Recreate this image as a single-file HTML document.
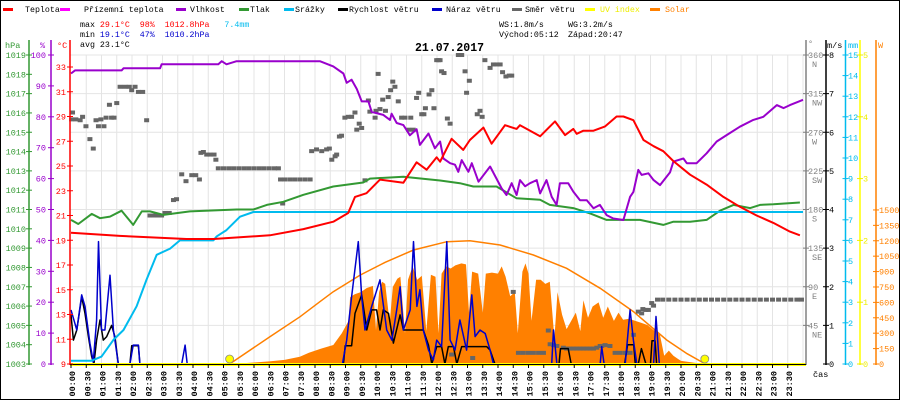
<!DOCTYPE html>
<html><head><meta charset="utf-8"><style>
html,body{margin:0;padding:0;background:#fff;}
svg{display:block;font-family:"Liberation Mono",monospace;}
</style></head><body>
<svg id="chart" width="900" height="400" viewBox="0 0 900 400" xmlns="http://www.w3.org/2000/svg">
<rect x="0.5" y="0.5" width="899" height="399" fill="#fff" stroke="#000" stroke-width="1"/>
<g font-size="8.3" fill="#000">
<rect x="3" y="8" width="10" height="3" fill="#ff0000"/><text x="25" y="12">Teplota</text>
<rect x="60" y="8" width="10" height="3" fill="#ff00ff"/><text x="84" y="12">Přízemní teplota</text>
<rect x="176" y="8" width="10" height="3" fill="#9900cc"/><text x="190" y="12">Vlhkost</text>
<rect x="239" y="8" width="10" height="3" fill="#339933"/><text x="250" y="12">Tlak</text>
<rect x="284" y="8" width="10" height="3" fill="#00bbee"/><text x="295" y="12">Srážky</text>
<rect x="338" y="8" width="10" height="3" fill="#000"/><text x="349" y="12">Rychlost větru</text>
<rect x="432" y="8" width="10" height="3" fill="#0000cc"/><text x="446" y="12">Náraz větru</text>
<rect x="512" y="8" width="10" height="3" fill="#666"/><text x="525" y="12">Směr větru</text>
<rect x="585" y="8" width="10" height="3" fill="#ffff00"/><text x="600" y="12" fill="#eeee00">UV index</text>
<rect x="650" y="8" width="10" height="3" fill="#ff8000"/><text x="665" y="12" fill="#ff8000">Solar</text>
</g>
<g font-size="8.3" fill="#000">
<text x="80" y="27" xml:space="preserve">max <tspan fill="#ff0000">29.1°C  98%  1012.8hPa</tspan>   <tspan fill="#00bbee">7.4mm</tspan></text>
<text x="80" y="37" xml:space="preserve">min <tspan fill="#0000cc">19.1°C  47%  1010.2hPa</tspan></text>
<text x="80" y="47">avg 23.1°C</text>
<text x="499" y="27">WS:1.8m/s</text>
<text x="568" y="27">WG:3.2m/s</text>
<text x="499" y="37">Východ:05:12</text>
<text x="568" y="37">Západ:20:47</text>
</g>
<text x="415" y="51" font-size="11.5" font-weight="bold">21.07.2017</text>
<g id="plot"></g>
</svg>
<script>
// ---- data ----
const tempTimes=[0,1.6,3.79,4.67,6.52,7.62,8.6,9.09,9.31,9.69,10.13,10.9,11.33,11.66,11.99,12.1,12.48,12.86,13.08,13.52,13.79,14.23,14.61,14.72,15.38,15.87,16.2,16.47,16.58,16.8,17.13,17.51,17.89,18.11,18.44,18.77,19.1,19.42,19.75,20.3,20.84,21.39,21.93,22.48,23.03,23.57,23.9];
const tempVals=[19.6,19.35,19.1,19.1,19.4,19.9,20.5,21.2,22.5,22.8,23.9,23.65,25.3,24.7,25.7,25.35,27.2,26.3,27.1,28.1,26.8,28.3,28.0,28.3,27.4,28.6,27.5,28.0,27.6,27.85,27.85,28.2,29.0,29.0,28.7,27.1,26.6,26.2,25.4,24.3,23.5,22.5,21.7,21.0,20.4,19.7,19.4];
const humTimes=[0,0.13,1.66,1.72,2.92,2.97,4.83,4.94,5.1,5.43,8.16,8.6,8.93,9.04,9.2,9.37,9.53,9.75,9.86,10.24,10.46,10.51,10.68,10.9,11.11,11.33,11.44,11.72,11.93,12.1,12.21,12.43,12.59,12.7,12.81,13.03,13.14,13.36,13.74,14.12,14.28,14.45,14.61,14.72,14.89,15.05,15.27,15.38,15.59,15.76,15.92,16.03,16.3,16.47,16.69,16.91,17.13,17.34,17.56,17.78,18.11,18.33,18.44,18.6,18.71,18.93,19.1,19.31,19.64,19.75,20.08,20.19,20.51,20.84,21.17,21.5,21.93,22.37,22.7,23.14,23.36,23.57,23.85,24];
const humVals=[94,95,95,95.7,95.7,97,97,98,97,98,98,96.3,94,91,92,89,85,85,81.6,80.6,79,81,78,77.3,74,76,70.9,74.6,69.8,72,66.5,65,64.5,62.2,66,62.2,65,59,63.9,56.8,54.7,58.5,54.7,59.5,57.5,58.5,59.5,55.2,59.5,54.1,51.5,58.5,58.5,55.8,53,53,50.4,51.5,48.2,47.1,46.6,54.1,55.7,62.8,61.2,61.7,59.5,57.9,62,65.5,66.5,65,65,68.2,72,74.1,76.8,79,80,83.8,82.8,83.8,84.9,85.5];
const presTimes=[0,0.24,0.68,0.95,1.28,1.66,2.04,2.32,2.59,3.03,3.9,5.43,5.98,6.42,6.96,7.62,8.6,9.58,9.8,10.9,12.1,12.75,13.19,13.95,14.61,15.38,15.7,16.47,17.02,17.56,18.66,19.42,19.75,20.3,20.84,21.28,21.72,22.27,22.59,23.03,23.9];
const presVals=[1010.46,1010.25,1010.77,1010.55,1010.63,1010.94,1010.2,1010.9,1010.9,1010.72,1010.9,1011.0,1011.0,1011.24,1011.4,1011.76,1012.19,1012.4,1012.6,1012.7,1012.5,1012.36,1012.19,1012.19,1011.58,1011.5,1011.24,1011.07,1010.8,1010.46,1010.46,1010.2,1010.37,1010.37,1010.46,1010.94,1011.24,1011.07,1011.24,1011.27,1011.36];
const rainTimes=[0,0.08,0.68,1.0,1.39,1.72,2.15,2.48,2.81,3.25,3.57,4.67,4.78,5.1,5.54,5.98,24];
const rainVals=[0.16,0.16,0.16,0.36,1.17,1.65,2.8,4.1,5.3,5.6,6.0,6.0,6.2,6.5,7.15,7.38,7.38];
const windTimes=[0,0.08,0.19,0.35,0.46,0.57,0.68,0.75,0.84,0.95,1.06,1.17,1.33,1.44,1.55,1.93,1.99,2.21,2.26,8.93,8.99,9.2,9.31,9.53,9.7,9.86,10.02,10.13,10.24,10.41,10.57,10.79,10.9,11.34,11.55,11.72,11.83,11.99,12.15,12.26,12.37,12.54,12.65,12.81,13.63,13.74,13.9,16.0,16.05,16.3,16.4,18.15,18.25,18.45,18.5,18.6,18.7,18.85,19.0,19.05,19.15,19.2,24];
const windVals=[1.27,0.62,0.88,1.74,1.31,0.71,0.19,0,0.62,1.14,0.62,0.71,1.0,0.71,0,0,0.47,0.47,0,0,0.47,0.47,1.31,1.79,0.88,1.4,1.4,0.88,1.4,1.31,0.54,1.27,0.88,0.88,0.88,0.49,0,0.45,0.45,0,0.45,0.45,0,0.45,0.45,0.36,0,0,0.4,0.4,0,0,0.5,0.5,0,0,0.4,0,0,0.6,0.6,0,0];
const gustTimes=[0,0.19,0.35,0.46,0.62,0.73,0.84,0.9,1.0,1.11,1.28,1.39,1.5,1.55,1.93,2.04,2.21,2.26,3.63,3.74,3.81,8.9,9.04,9.2,9.42,9.53,9.64,9.86,10.13,10.35,10.52,10.68,10.79,10.9,11.12,11.23,11.34,11.44,11.55,11.72,11.88,11.99,12.15,12.32,12.43,12.59,12.75,12.97,13.14,13.25,13.41,13.58,13.74,13.85,15.76,15.82,15.93,17.35,17.4,17.48,18.17,18.33,18.44,18.55,19.1,19.18,19.29,24];
const gustVals=[1.4,0.88,1.79,1.49,0.54,0.06,1.14,3.17,0.88,0.88,2.3,0.88,0.28,0,0,0.49,0.49,0,0,0.49,0,0,0.62,1.74,3.17,1.74,0.88,1.49,2.18,0.88,0.62,1.4,2.0,0.88,1.4,3.17,1.49,1.92,0.88,0.36,0.1,0.62,0.45,3.17,0.62,0.36,1.14,0.36,1.79,0.71,0.88,0.79,0.36,0,0,0.88,0,0,0.45,0,0,1.4,0.62,0,0,1.23,0,0];
const solarTimes=[5.2,5.5,6.0,6.5,7.0,7.5,7.8,8.2,8.6,8.88,9.1,9.15,9.3,9.5,9.7,9.9,10.0,10.1,10.2,10.3,10.45,10.55,10.7,10.8,10.95,11.05,11.2,11.35,11.5,11.65,11.8,11.95,12.05,12.15,12.3,12.45,12.6,12.8,12.95,13.05,13.15,13.35,13.5,13.6,13.8,14.0,14.12,14.25,14.4,14.55,14.65,14.8,14.9,15.0,15.1,15.25,15.4,15.55,15.7,15.85,15.95,16.1,16.25,16.4,16.55,16.7,16.8,16.95,17.1,17.3,17.45,17.6,17.8,17.95,18.1,18.3,18.5,18.7,18.9,19.1,19.3,19.45,19.6,19.75,19.9,20.0,20.5,20.8];
const solarVals=[0,5,15,25,40,70,110,150,185,300,420,650,680,700,740,760,330,700,800,780,400,750,830,850,300,820,950,820,860,320,870,850,300,880,950,930,960,980,970,500,900,880,500,880,890,880,950,850,660,700,300,900,980,880,420,820,820,780,800,250,700,480,340,420,500,320,620,450,560,600,450,560,420,500,430,440,420,400,380,330,300,80,130,80,50,30,10,0];
const solarMaxTimes=[5.2,6.52,7.51,8.16,8.6,9.48,10.3,11.23,12.32,13.08,14.07,15.16,16.25,17.35,18.44,19.53,20.2,20.8];
const solarMaxVals=[0,266,461,607,704,866,990,1110,1191,1200,1159,1061,932,737,510,234,100,0];
// wind direction readings: [hour, degrees]
const dirData=[[0.05,293],[0.02,285],[0.16,285],[0.3,284],[0.38,288],[0.49,277],[0.62,262],[0.73,251],[0.82,284],[0.9,277],[0.98,285],[1.08,277],[1.15,287],[1.26,302],[1.33,287],[1.41,287],[1.5,304],[1.61,323],[1.77,323],[1.91,323],[1.99,319],[2.1,323],[2.21,317],[2.35,317],[2.48,284],[2.59,173],[2.7,173],[2.83,173],[2.97,173],[3.08,176],[3.22,176],[3.36,191],[3.46,192],[3.63,221],[3.77,213],[3.96,220],[4.09,220],[4.21,215],[4.26,246],[4.34,247],[4.45,244],[4.56,244],[4.69,244],[4.75,238],
[4.83,228],[5.0,228],[5.17,228],[5.33,228],[5.5,228],[5.67,228],[5.83,228],[6.0,228],[6.17,228],[6.33,228],[6.5,228],[6.67,228],[6.8,228],
[6.87,215],[7.0,215],[7.17,215],[7.33,215],[7.5,215],[7.67,215],[7.84,215],[6.94,187],
[7.89,248],[8.05,250],[8.22,248],[8.38,250],[8.47,251],[8.55,238],[8.66,242],[8.71,244],[8.8,265],[8.87,266],[8.98,287],[9.09,288],[9.2,288],[9.31,293],[9.37,273],[9.45,280],[9.53,275],[9.64,214],[9.75,307],[9.8,294],[9.97,287],[10.0,295],[10.07,338],[10.13,297],[10.22,308],[10.31,295],[10.4,311],[10.48,319],[10.55,329],[10.62,323],[10.73,306],[10.84,287],[10.95,287],[11.07,273],[11.14,287],[11.22,273],[11.33,310],[11.4,316],[11.5,291],[11.57,291],[11.62,298],[11.74,314],[11.83,319],[11.9,298],[11.99,354],[12.05,354],[12.1,354],[12.15,341],[12.23,339],[12.34,286],[12.43,280],[12.7,360],[12.81,360],[12.92,341],[12.97,316],[13.06,330],[13.32,291],[13.41,295],[13.48,288],[13.57,354],[13.74,345],[13.85,349],[13.96,349],[14.07,349],[14.15,340],[14.26,335],[14.37,336],[14.45,336],[14.5,84],[12.48,11],[13.17,7],
[15.65,39],[15.71,23],[15.82,22],[15.93,21],[16.14,19],[16.25,18],[16.36,18],[16.47,18],[16.58,18],[16.69,18],[16.8,18],[16.91,18],[17.02,18],[17.13,18],[17.24,19],[17.35,21],[17.4,21],[17.51,22],[17.67,21],
[14.67,13],[14.83,13],[15.0,13],[15.16,13],[15.33,13],[15.49,13],[17.84,13],[18.0,13],[18.17,13],[18.33,13],
[18.44,34],[18.6,61],[18.71,59],[18.75,64],[18.85,63],[18.93,63],[19.04,71],[19.1,68],
[19.23,75],[19.4,75],[19.6,75],[19.8,75],[20.0,75],[20.2,75],[20.4,75],[20.6,75],[20.8,75],[21.0,75],[21.2,75],[21.4,75],[21.6,75],[21.8,75],[22.0,75],[22.2,75],[22.4,75],[22.6,75],[22.8,75],[23.0,75],[23.2,75],[23.4,75],[23.6,75],[23.8,75],[23.95,75]];
const hpaTicks=[1003,1004,1005,1006,1007,1008,1009,1010,1011,1012,1013,1014,1015,1016,1017,1018,1019];
const humTicks=[0,10,20,30,40,50,60,70,80,90,100];
const tempTicks=[9,11,13,15,17,19,21,23,25,27,29,31,33];
const dirTicks=[45,90,135,180,225,270,315,360];
const dirNames=['NE','E','SE','S','SW','W','NW','N'];
const wsTicks=[0,1,2,3,4,5,6,7,8];
const mmTicks=[0,1,2,3,4,5,6,7,8,9,10,11,12,13,14,15];
const uvTicks=[0,1,2,3,4,5];
const wTicks=[0,150,300,450,600,750,900,1050,1200,1350,1500];
const timeLabels=['00:00','00:30','01:00','01:30','02:00','02:30','03:00','03:30','04:00','04:30','05:00','05:30','06:00','06:30','07:00','07:30','08:00','08:30','09:00','09:30','10:00','10:30','11:00','11:30','12:00','12:30','13:00','13:30','14:00','14:30','15:00','15:30','16:00','16:30','17:00','17:30','18:00','18:30','19:00','19:30','20:00','20:30','21:00','21:30','22:00','22:30','23:00','23:30'];
const sunEvents=[5.2,20.78];

// ---- scales ----
const B=364;
const xT=h=>71+h*30.5;
const yTemp=t=>B-(t-9)*12.375;
const yHum=p=>B-p*3.09;
const yPres=p=>B-(p-1003)*19.3125;
const yRain=m=>B-m*20.6;
const yWS=v=>B-v*38.625;
const yDir=d=>B-d*0.8583;
const yUV=u=>B-u*61.8;
const ySol=w=>B-w*0.1027;

const NS='http://www.w3.org/2000/svg';
const plot=document.getElementById('plot');
function mk(tag,attrs,parent){const e=document.createElementNS(NS,tag);for(const k in attrs)e.setAttribute(k,attrs[k]);(parent||plot).appendChild(e);return e;}
function pts(ts,vs,yf){return ts.map((t,i)=>xT(t).toFixed(1)+','+yf(vs[i]).toFixed(1)).join(' ');}

// grid
for(let i=1;i<=48;i++){const g=mk('line',{x1:xT(i/2),x2:xT(i/2),y1:55,y2:B,stroke:'#e4e4e4','stroke-width':1});

}
for(let k=1;k<=8;k++){const g=mk('line',{x1:70,x2:806,y1:yDir(k*45),y2:yDir(k*45),stroke:'#e4e4e4','stroke-width':1});

}

// solar
let d='M'+xT(solarTimes[0])+','+B+' L'+pts(solarTimes,solarVals,ySol).split(' ').join(' L')+' L'+xT(solarTimes[solarTimes.length-1])+','+B+' Z';
const sol=mk('path',{d:d,fill:'#ff8000',stroke:'none'});


const solm=mk('polyline',{points:pts(solarMaxTimes,solarMaxVals,ySol),fill:'none',stroke:'#ff8000','stroke-width':1.5});



// wind direction
dirData.forEach(p=>{const r=mk('rect',{x:xT(p[0])-2.5,y:yDir(p[1])-2,width:5,height:4,fill:'#666'});

});

function series(ts,vs,yf,col,w,name){const p=mk('polyline',{points:pts(ts,vs,yf),fill:'none',stroke:col,'stroke-width':w,'stroke-linejoin':'round'});

}
series(windTimes,windVals,yWS,'#000',1.5,'wind-speed-line');
series(gustTimes,gustVals,yWS,'#0000cc',1.5,'wind-gust-line');
series(presTimes,presVals,yPres,'#339933',2,'pressure-line');
series(rainTimes,rainVals,yRain,'#00bbee',2,'rain-line');
series(humTimes,humVals,yHum,'#9900cc',2,'humidity-line');
series(tempTimes,tempVals,yTemp,'#ff0000',2,'temperature-line');

// uv baseline
const uvl=mk('rect',{x:70,y:B-1,width:736,height:3,fill:'#ffff00'});


sunEvents.forEach(t=>{const c=mk('circle',{cx:xT(t),cy:B-5,r:4,fill:'#ffff00',stroke:'#888','stroke-width':0.8});

});

// axes lines
function vline(x,y1,col,name){const l=mk('line',{x1:x,x2:x,y1:y1,y2:B+1,stroke:col,'stroke-width':1.5});

}
vline(29,40,'#339933','hpa-axis');
vline(51,40,'#9900cc','humidity-axis');
vline(70,40,'#ff0000','temperature-axis');
vline(806,40,'#808080','wind-direction-axis');
vline(826,40,'#000','wind-speed-axis');
vline(845.5,40,'#00bbee','rain-axis');
vline(860,40,'#ffff00','uv-axis');
vline(876,40,'#ff8000','solar-axis');
const xb=mk('line',{x1:70,x2:806,y1:B+0.5,y2:B+0.5,stroke:'#000','stroke-width':1});



function tick(x,y,col){const t=mk('line',{x1:x-3,x2:x+3,y1:y,y2:y,stroke:col,'stroke-width':1});

}
function label(x,y,txt,col,anchor,name){const t=mk('text',{x:x,y:y,fill:col,'font-size':8.5,'text-anchor':anchor||'start'});t.textContent=txt;

}
hpaTicks.forEach(v=>{tick(29,yPres(v),'#339933');label(26,yPres(v)+3,String(v),'#339933','end','hpa-tick-label');});
humTicks.forEach(v=>{tick(51,yHum(v),'#9900cc');label(46,yHum(v)+3,String(v),'#9900cc','end','humidity-tick-label');});
tempTicks.forEach(v=>{tick(70,yTemp(v),'#ff0000');label(66,yTemp(v)+3,String(v),'#ff0000','end','temperature-tick-label');});
dirTicks.forEach((v,i)=>{tick(806,yDir(v),'#808080');label(808,yDir(v)+3,String(v),'#808080','start','wind-direction-tick-label');label(812,yDir(v)+12,dirNames[i],'#808080','start','compass-label');});
wsTicks.forEach(v=>{tick(826,yWS(v),'#000');label(829,yWS(v)+3,String(v),'#000','start','wind-speed-tick-label');});
mmTicks.forEach(v=>{tick(845.5,yRain(v),'#00bbee');label(848,yRain(v)+3,String(v),'#00bbee','start','rain-tick-label');});
uvTicks.forEach(v=>{tick(860,yUV(v),'#eeee00');label(863,yUV(v)+3,String(v),'#eeee00','start','uv-tick-label');});
wTicks.forEach(v=>{tick(876,ySol(v),'#ff8000');label(879,ySol(v)+3,String(v),'#ff8000','start','solar-tick-label');});
label(5,48,'hPa','#339933','start','hpa-axis-title');
label(40,48,'%','#9900cc','start','humidity-axis-title');
label(57,48,'°C','#ff0000','start','temperature-axis-title');
label(808,46,'°','#808080','start','wind-direction-axis-title');
label(827,48,'m/s','#000','start','wind-speed-axis-title');
label(848,48,'mm','#00bbee','start','rain-axis-title');
label(878,48,'W','#ff8000','start','solar-axis-title');
label(813,377,'čas','#000','start','time-axis-title');

timeLabels.forEach((s,i)=>{const x=xT(i/2);
const tk=mk('line',{x1:x,x2:x,y1:B,y2:B+4,stroke:'#000','stroke-width':1});


const t=mk('text',{transform:'translate('+(x+4)+',371) rotate(-90)','text-anchor':'end','font-size':8.5,'font-weight':'bold',fill:'#000'});t.textContent=s;

});
</script>
</body></html>
